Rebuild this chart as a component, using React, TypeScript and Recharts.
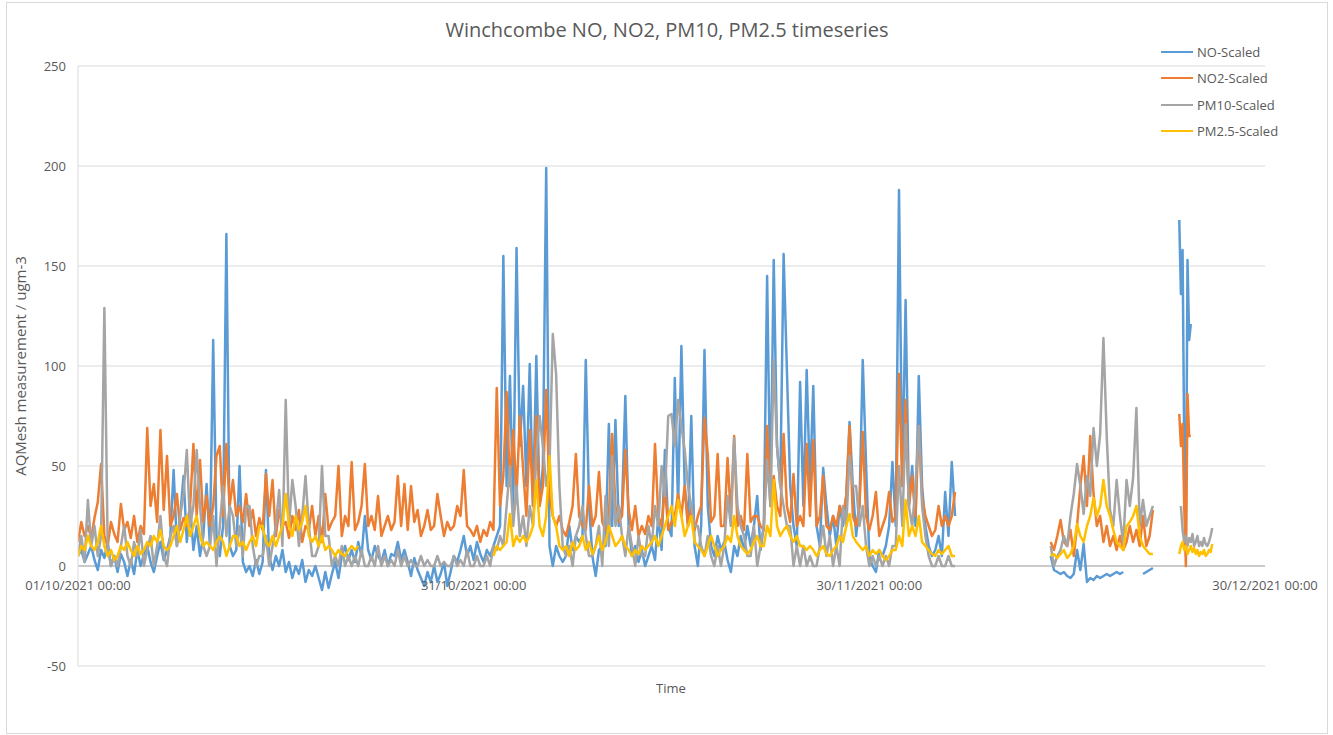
import React from "react";
import { LineChart, Line, XAxis, YAxis, CartesianGrid, ReferenceLine } from "recharts";

// ---------- labels ----------
const chartTitle = "Winchcombe NO, NO2, PM10, PM2.5 timeseries";
const yAxisTitle = "AQMesh measurement / ugm-3";
const xAxisTitle = "Time";
const seriesKeys = ["no", "no2", "pm10", "pm25"];
const seriesNames = ["NO-Scaled", "NO2-Scaled", "PM10-Scaled", "PM2.5-Scaled"];
const seriesColors = ["#5B9BD5", "#ED7D31", "#A5A5A5", "#FFC000"];
const xTickDays = [0, 30, 60, 90];
const xTickLabels = ["01/10/2021 00:00", "31/10/2021 00:00", "30/11/2021 00:00", "30/12/2021 00:00"];
const yTicks = [-50, 0, 50, 100, 150, 200, 250];

// ---------- segment A: days 0 .. 66.5 after 01/10/2021, 6-hour steps ----------
const segAStart = 0;
const segAStep = 0.25;
const noA = [
  5, 8, 2, 6, 10, 3, -2, 8, 4, 12, 0, 5, -3, 6, 2, -5, 3, -4, 8, 0,
  6, 10, 2, -3, 5, 12, 3, 8, 15, 48, 10, 25, 45, 12, 30, 8, 20, 5, 15, 41,
  10, 113, 15, 5, 20, 166, 10, 5, 8, 50, 2, -3, 0, -5, 3, -4, 2, 48, 5, -2,
  5, 0, 8, -3, 2, -6, 0, -4, 3, -8, -2, -5, 0, -6, -12, -3, -11, -4, 2, -6,
  5, 10, 3, 8, 2, 12, 5, 25, 8, 3, 10, 5, 2, 8, 0, 6, 5, 12, 3, 8,
  2, -5, 4, -2, -6, -10, -3, -8, 0, -8, -4, 2, -10, -3, 5, 2, 8, 15, 5, 10,
  3, 12, 6, 2, 8, 5, 10, 15, 20, 155, 40, 95, 30, 159, 60, 90, 40, 101, 30, 105,
  30, 50, 199, 10, 0, 10, 5, 2, 5, 20, 8, 15, 12, 15, 103, 30, 5, -5, 8, 10,
  10, 71, 20, 73, 20, 30, 85, 20, 5, 10, 2, 8, 0, 5, 10, 3, 25, 8, 58, 20,
  15, 94, 30, 110, 40, 20, 75, 10, 0, 20, 108, 30, 10, 5, 15, 8, 12, 3, -3, 10,
  5, 15, 8, 20, 10, 20, 35, 8, 20, 145, 30, 153, 60, 40, 156, 98, 40, 20, 10, 92,
  30, 98, 40, 90, 20, 10, 49, 30, 15, 25, 10, 30, 20, 35, 72, 40, 15, 30, 103, 51,
  5, 0, -3, 8, 5, 10, 20, 52, 20, 188, 40, 133, 30, 50, 20, 95, 40, 20, 10, 5,
  8, 15, 5, 37, 15, 52, 25,
];
const no2A = [
  12, 22, 15, 20, 14, 24, 32, 51, 15, 10, 22, 16, 12, 31, 18, 22, 14, 25, 12, 20,
  16, 69, 30, 41, 22, 68, 28, 55, 20, 25, 36, 18, 24, 20, 30, 61, 25, 53, 22, 35,
  20, 30, 55, 60, 25, 61, 30, 43, 25, 30, 22, 36, 20, 28, 15, 24, 18, 46, 25, 43,
  15, 28, 20, 22, 14, 25, 18, 28, 12, 20, 18, 30, 15, 25, 12, 36, 18, 22, 25, 50,
  15, 25, 20, 52, 18, 22, 30, 51, 20, 25, 18, 35, 15, 20, 25, 18, 22, 45, 20, 41,
  18, 40, 22, 28, 15, 20, 28, 18, 20, 36, 25, 15, 22, 18, 20, 30, 25, 48, 20, 18,
  15, 20, 12, 18, 15, 22, 18, 89, 30, 45, 87, 40, 68, 35, 75, 48, 25, 68, 30, 75,
  30, 40, 88, 35, 25, 20, 25, 18, 15, 22, 30, 56, 25, 20, 18, 40, 20, 25, 47, 22,
  18, 25, 66, 30, 22, 25, 58, 28, 18, 30, 15, 20, 16, 25, 20, 61, 25, 20, 40, 18,
  22, 25, 36, 25, 40, 20, 30, 18, 25, 30, 74, 56, 22, 25, 56, 20, 20, 54, 25, 65,
  20, 25, 18, 56, 22, 25, 25, 20, 18, 70, 30, 45, 30, 25, 66, 30, 22, 46, 20, 25,
  20, 61, 25, 63, 20, 25, 45, 20, 18, 25, 20, 30, 25, 35, 70, 25, 20, 30, 67, 25,
  18, 25, 37, 15, 20, 25, 37, 22, 25, 96, 40, 83, 30, 45, 25, 70, 35, 25, 20, 15,
  18, 30, 20, 25, 20, 25, 37,
];
const pm10A = [
  5, 15, 2, 33, 10, 20, 5, 15, 129, 10, 0, 5, 0, 10, 20, 5, 0, 12, 5, 18,
  0, 8, 15, 0, 10, 25, 5, 0, 15, 20, 10, 25, 36, 58, 20, 30, 58, 30, 10, 5,
  10, 25, 0, 20, 40, 15, 30, 25, 10, 20, 5, 30, 30, 10, 0, 5, 5, 15, 0, 10,
  20, 38, 10, 83, 20, 43, 30, 10, 25, 45, 20, 5, 5, 10, 50, 15, 15, 0, 5, 0,
  10, 0, 5, 0, 5, 0, 8, 0, 0, 5, 0, 10, 0, 5, 0, 3, 0, 8, 0, 5,
  0, 3, 0, 0, 5, 0, 3, 0, 0, 5, 0, 2, 0, 0, 5, 0, 3, 0, 8, 0,
  0, 5, 0, 0, 5, 0, 10, 8, 15, 10, 30, 50, 20, 40, 15, 25, 10, 30, 20, 55,
  75, 60, 40, 50, 116, 96, 40, 10, 5, 10, 0, 15, 20, 30, 15, 5, 5, 10, 20, 0,
  35, 10, 55, 20, 30, 15, 5, 20, 10, 0, 15, 5, 5, 20, 10, 30, 20, 50, 35, 75,
  76, 60, 83, 70, 58, 40, 30, 20, 20, 10, 5, 15, 5, 0, 10, 0, 10, 35, 20, 64,
  30, 20, 15, 5, 5, 20, 0, 10, 20, 53, 30, 103, 60, 40, 30, 20, 20, 0, 10, 0,
  10, 0, 5, 0, 0, 10, 20, 5, 15, 0, 10, 0, 30, 20, 55, 40, 40, 20, 30, 10,
  0, 5, 0, 5, 0, 5, 0, 10, 10, 50, 20, 71, 30, 20, 40, 70, 30, 15, 5, 0,
  0, 5, 0, 0, 5, 0, 0,
];
const N = null;
const pm25A = [
  5, 10, 8, 15, 10, 8, 12, 20, 10, 5, 8, 3, 5, 10, 8, 12, 8, 5, 10, 6,
  8, 12, 10, 15, 12, 18, 10, 8, 10, 15, 20, 12, 18, 25, 15, 20, 25, 15, 10, 12,
  10, 8, 12, 15, 12, 5, 10, 15, 15, 10, 12, 8, 12, 15, 10, 20, 20, 12, 10, 15,
  10, 15, 20, 36, 20, 15, 25, 18, 22, 30, 15, 12, 15, 10, 15, 8, 10, 8, 5, 8,
  6, 5, 8, 10, 8, 10, N, N, N, N, N, N, N, N, N, N, N, N, N, N,
  N, N, N, N, N, N, N, N, N, N, N, N, N, N, N, N, N, N, N, N,
  N, N, N, N, N, N, 5, 10, 8, 10, 12, 26, 10, 15, 12, 15, 12, 15, 20, 43,
  20, 15, 25, 55, 25, 20, 10, 8, 10, 5, 12, 8, 10, 15, 8, 12, 6, 10, 15, 8,
  12, 20, 15, 10, 12, 15, 10, 8, 5, 8, 6, 10, 8, 10, 12, 15, 10, 15, 20, 25,
  30, 20, 33, 25, 15, 20, 25, 12, 10, 8, 5, 10, 15, 10, 5, 8, 10, 15, 12, 25,
  15, 10, 8, 6, 8, 12, 15, 10, 10, 20, 15, 43, 20, 15, 18, 20, 15, 12, 15, 10,
  10, 8, 10, 8, 5, 8, 10, 6, 5, 8, 10, 15, 12, 20, 26, 15, 12, 10, 8, 10,
  5, 8, 6, 8, 5, 3, 5, 8, 8, 15, 10, 33, 15, 20, 15, 25, 12, 10, 8, 6,
  5, 8, 6, 8, 10, 5, 5,
];

// ---------- segment B: days 73.75 .. 81.5, 6-hour steps ----------
const segBStart = 73.75;
const segBStep = 0.25;
const noB = [5, -2, -3, -4, -3, -5, -6, -4, 8, -2, 11, -8, -6, -7, -5, -6, -5, -4, -5, -4, -3, -4, -3, N, N, N, N, N, -4, -3, -2, -1];
const no2B = [12, 8, 15, 23, 12, 10, 18, 5, 20, 40, 55, 30, 65, 36, 20, 25, 12, 20, 10, 15, 8, 15, 8, 12, 20, 12, 18, 10, 25, 10, 15, 28];
const pm10B = [10, 0, 5, 8, 15, 10, 25, 36, 51, 40, 26, 45, 35, 69, 50, 66, 114, 65, 28, 20, 43, 25, 11, 43, 30, 44, 79, 20, 33, 20, 25, 30];
const pm25B = [5, 6, 4, 6, 8, 4, 6, 10, 21, 15, 12, 20, 25, 34, 25, 30, 43, 30, 25, 18, 12, 10, 8, 20, 22, 25, 30, 15, 10, 8, 6, 6];

// ---------- segment C: days 83.5 .. 86.0, 3-hour steps ----------
const segCStart = 83.5;
const segCStep = 0.125;
const noC = [173, 136, 158, 60, 12, 153, 113, 121];
const no2C = [76, 60, 71, 30, 0, 86, 65, 65];
const pm10C = [N, 30, 18, 12, 15, 10, 14, 12, 16, 10, 12, 15, 10, 12, 10, 14, 11, 10, 12, 15, 19];
const pm25C = [6, 10, 12, 8, 10, 6, 8, 10, 7, 9, 6, 8, 5, 7, 6, 8, 5, 6, 8, 7, 11];

// break points between the recorded segments (no data there)
const gapDays = [70, 82.5];

type Val = number | null;
type Row = { t: number; no: Val; no2: Val; pm10: Val; pm25: Val };

function buildSegment(start: number, step: number, no: Val[], no2: Val[], pm10: Val[], pm25: Val[]): Row[] {
  const n = Math.max(no.length, no2.length, pm10.length, pm25.length);
  const pick = (a: Val[], i: number): Val => (i < a.length ? a[i] : null);
  const rows: Row[] = [];
  for (let i = 0; i < n; i++) {
    rows.push({ t: start + i * step, no: pick(no, i), no2: pick(no2, i), pm10: pick(pm10, i), pm25: pick(pm25, i) });
  }
  return rows;
}
const gapRow = (t: number): Row => ({ t, no: null, no2: null, pm10: null, pm25: null });

const data: Row[] = [
  ...buildSegment(segAStart, segAStep, noA, no2A, pm10A, pm25A),
  gapRow(gapDays[0]),
  ...buildSegment(segBStart, segBStep, noB, no2B, pm10B, pm25B),
  gapRow(gapDays[1]),
  ...buildSegment(segCStart, segCStep, noC, no2C, pm10C, pm25C),
];

// ---------- layout ----------
const FONT = "'Open Sans', 'Noto Sans', sans-serif";
const TEXT = "#595959";
const W = 1320;
const H = 730;
const M = { top: 63, right: 62, bottom: 37, left: 11 };
const Y_AXIS_W = 60;
const X_AXIS_H = 30;
const PLOT_H = H - M.top - M.bottom - X_AXIS_H;
const Y_MIN = -50;
const Y_MAX = 250;
const ZERO_Y = M.top + (PLOT_H * (Y_MAX - 0)) / (Y_MAX - Y_MIN);

const XTick = (props: any) => {
  const { x, payload } = props;
  const idx = xTickDays.indexOf(payload.value);
  return (
    <text x={x} y={ZERO_Y + 24} textAnchor="middle" fill={TEXT} fontSize={13} fontFamily={FONT}>
      {idx >= 0 ? xTickLabels[idx] : ""}
    </text>
  );
};

const LegendBox = () => (
  <div style={{ position: "absolute", left: 1154, top: 36, fontFamily: FONT, fontSize: 13, color: TEXT }}>
    {seriesNames.map((name, i) => (
      <div key={name} style={{ display: "flex", alignItems: "center", height: 26.3 }}>
        <div style={{ width: 32, height: 2, background: seriesColors[i], marginRight: 4 }} />
        <span>{name}</span>
      </div>
    ))}
  </div>
);

export default function App() {
  return (
    <div
      style={{
        position: "absolute",
        left: 6,
        top: 2,
        width: W,
        height: H,
        border: "1px solid #d9d9d9",
        background: "#fff",
        fontFamily: FONT,
      }}
    >
      <div
        style={{
          position: "absolute",
          left: 0,
          width: W,
          top: 13,
          textAlign: "center",
          fontSize: 20,
          color: TEXT,
        }}
      >
        {chartTitle}
      </div>
      <div
        style={{
          position: "absolute",
          left: 13,
          top: 363,
          transform: "translate(-50%, -50%) rotate(-90deg)",
          whiteSpace: "nowrap",
          fontSize: 15,
          color: TEXT,
        }}
      >
        {yAxisTitle}
      </div>
      <div
        style={{
          position: "absolute",
          left: 664,
          top: 685,
          transform: "translate(-50%, -50%)",
          fontSize: 13,
          color: TEXT,
        }}
      >
        {xAxisTitle}
      </div>
      <LineChart width={W} height={H} data={data} margin={M}>
        <CartesianGrid horizontal={true} vertical={false} stroke="#d9d9d9" />
        <XAxis
          type="number"
          dataKey="t"
          domain={[0, 90]}
          ticks={xTickDays}
          allowDataOverflow
          height={X_AXIS_H}
          axisLine={false}
          tickLine={false}
          tick={<XTick />}
        />
        <YAxis
          type="number"
          domain={[Y_MIN, Y_MAX]}
          ticks={yTicks}
          width={Y_AXIS_W}
          axisLine={{ stroke: "#d9d9d9" }}
          tickLine={false}
          tick={{ fill: TEXT, fontSize: 13, fontFamily: FONT }}
          tickMargin={6}
        />
        <ReferenceLine y={0} stroke="#bfbfbf" strokeWidth={1.5} />
        {seriesKeys.map((k, i) => (
          <Line
            key={k}
            type="linear"
            dataKey={k}
            name={seriesNames[i]}
            stroke={seriesColors[i]}
            strokeWidth={2.5}
            strokeLinejoin="round"
            dot={false}
            activeDot={false}
            connectNulls={false}
            isAnimationActive={false}
          />
        ))}
      </LineChart>
      <LegendBox />
    </div>
  );
}
